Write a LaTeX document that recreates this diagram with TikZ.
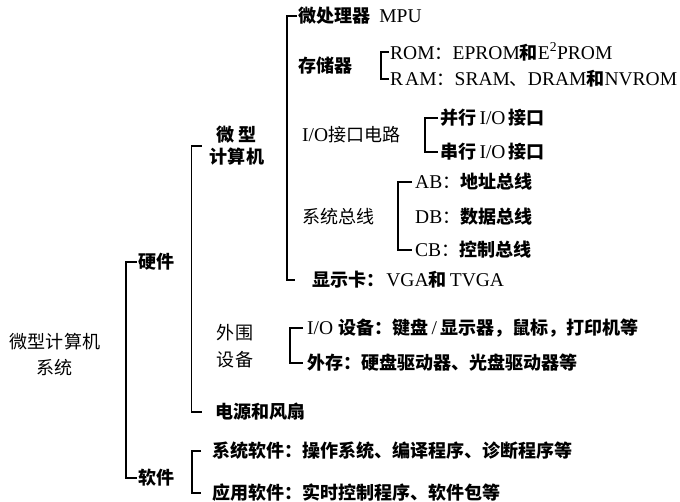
\documentclass[tikz,border=0pt]{standalone}
\usepackage{fontspec}
\setmainfont{Liberation Serif}
\newfontfamily\cjk{Noto Sans CJK SC}[Scale=0.925]
\newcommand\zh[1]{{\cjk #1}}
\newcommand\zhb[1]{{\cjk\bfseries #1}}
\begin{document}
\begin{tikzpicture}[x=1pt,y=-1pt,
  lbl/.style={inner sep=0pt,anchor=west,font=\fontsize{19.5}{22}\selectfont},
  twoline/.style={inner sep=0pt,align=center,font=\fontsize{19.5}{#1}\selectfont},
  br/.style={line width=1.3pt,line cap=butt,line join=miter}]
\useasboundingbox (0,0) rectangle (680,502);
% level 0
\node[twoline=26] (sys) at (55,355) {\zh{微型计算机}\\\zh{系统}};
% level 1
\node[lbl] (hw) at (138,262) {\zhb{硬件}};
\node[lbl] (sw) at (138,478) {\zhb{软件}};
% level 2 hardware
\node[twoline=22] (mc) at (237,146) {\zhb{微\hspace{4pt}型}\\\zhb{计算机}};
\node[twoline=27] (pe) at (235,346) {\zh{外围}\\\zh{设备}};
\node[lbl] (psu) at (215,412) {\zhb{电源和风扇}};
% level 2 software
\node[lbl] (syssw) at (212,451) {\zhb{系统软件：操作系统、编译程序、诊断程序等}};
\node[lbl] (appsw) at (212,493) {\zhb{应用软件：实时控制程序、软件包等}};
% level 3 microcomputer
\node[lbl] (mpu) at (298,16) {\zhb{微处理器}\hspace{9pt}MPU};
\node[lbl] (mem) at (298,66) {\zhb{存储器}};
\node[lbl] (io) at (302,135) {I/O\zh{接口电路}};
\node[lbl] (bus) at (302,217) {\zh{系统总线}};
\node[lbl] (vga) at (312,280) {\zhb{显示卡：}\hspace{2pt}VGA\zhb{和}\,TVGA};
% level 4
\node[lbl] (rom) at (390,52) {ROM\zh{：}EPROM\zhb{和}E\textsuperscript{2}PROM};
\node[lbl] (ram) at (390,79) {R\hspace{2pt}AM\zh{：}SRAM\zh{、}DRAM\zhb{和}NVROM};
\node[lbl] (par) at (440,118) {\zhb{并行}\,I/O\,\zhb{接口}};
\node[lbl] (ser) at (440,152) {\zhb{串行}\,I/O\,\zhb{接口}};
\node[lbl] (ab) at (415,182) {AB\zh{：}\zhb{地址总线}};
\node[lbl] (db) at (415,217) {DB\zh{：}\zhb{数据总线}};
\node[lbl] (cb) at (415,250) {CB\zh{：}\zhb{控制总线}};
% peripherals
\node[lbl] (iodev) at (307,328) {I/O\ \zhb{设备：键盘}\,/\,\zhb{显示器，鼠标，打印机等}};
\node[lbl] (ext) at (307,363) {\zhb{外存：硬盘驱动器、光盘驱动器等}};
% brackets
\draw[br] ([xshift=-1pt]hw.west) -- ++(-11,0) |- ([xshift=-1pt]sw.west);
\draw[br] ([xshift=-8pt]mc.west) -- ++(-10,0) |- ([xshift=-13pt]psu.west);
\draw[br] ([xshift=-1pt]mpu.west) -- ++(-10,0) |- ([xshift=-17pt]vga.west);
\draw[br] ([xshift=-1pt]rom.west) -- ++(-8,0) |- ([xshift=-1pt]ram.west);
\draw[br] ([xshift=-2pt]par.west) -- ++(-13,0) |- ([xshift=-2pt]ser.west);
\draw[br] ([xshift=-3pt]ab.west) -- ++(-14,0) |- ([xshift=-3pt]cb.west);
\draw[br] ([xshift=-4pt]iodev.west) -- ++(-13,0) |- ([xshift=-4pt]ext.west);
\draw[br] ([xshift=-11pt]syssw.west) -- ++(-9,0) |- ([xshift=-11pt]appsw.west);
\end{tikzpicture}
\end{document}
